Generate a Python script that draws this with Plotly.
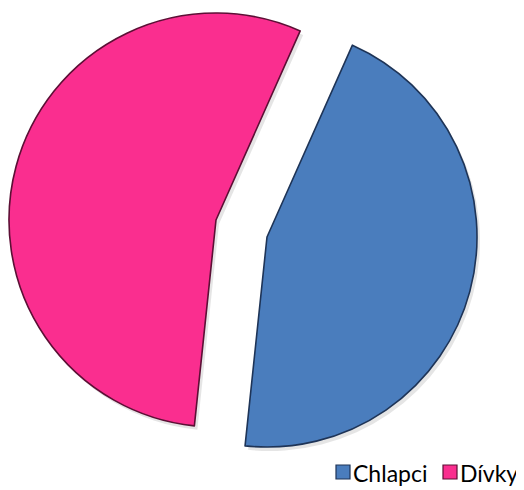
import plotly.graph_objects as go

# Data
categories = ["Chlapci", "Dívky"]
values = [45, 55]
fill_colors = ["#4A7DBD", "#FA2E8F"]
edge_colors = ["#1E3457", "#5C0F35"]

# page body has an 8px margin: figure fills the rest of the 524x490 window
OFF = 8
W, H = 524 - OFF, 490 - OFF

def fx(x):  # screen px -> paper
    return (x - OFF) / W

def fy(y):
    return 1 - (y - OFF) / H

def px_domain(cx, cy, r):
    return dict(x=[max(0, fx(cx - r)), min(1, fx(cx + r))],
                y=[max(0, fy(cy + r)), min(1, fy(cy - r))])

fig = go.Figure()

# each slice drawn as its own exploded pie (other slice transparent)
centers = [(267, 237, 210), (216, 220, 207)]
for i, (cx, cy, r) in enumerate(centers):
    sh_cols = ["rgba(0,0,0,0)"] * len(categories)
    sh_cols[i] = "rgba(0,0,0,0.10)"
    fig.add_trace(go.Pie(
        labels=categories, values=values, sort=False, direction="clockwise",
        rotation=24, domain=px_domain(cx + 3, cy + 4, r),
        marker=dict(colors=sh_cols, line=dict(width=0)),
        textinfo="none", hoverinfo="skip", showlegend=False))
for i, (cx, cy, r) in enumerate(centers):
    cols = ["rgba(0,0,0,0)"] * len(categories)
    cols[i] = fill_colors[i]
    lcols = ["rgba(0,0,0,0)"] * len(categories)
    lcols[i] = edge_colors[i]
    fig.add_trace(go.Pie(
        labels=categories, values=values, sort=False, direction="clockwise",
        rotation=24, domain=px_domain(cx, cy, r),
        marker=dict(colors=cols, line=dict(width=1.6, color=lcols)),
        textinfo="none", showlegend=False))

# manual legend (squares + text) in the bottom-right corner
legend_x = [336, 443]   # left edge of each square, screen px
sq = 14
ly = 472
shapes, annotations = [], []
for name, c, e, x0 in zip(categories, fill_colors, edge_colors, legend_x):
    shapes.append(dict(type="rect", xref="paper", yref="paper",
                       x0=fx(x0), x1=fx(x0 + sq),
                       y0=fy(ly + sq / 2), y1=fy(ly - sq / 2),
                       fillcolor=c, line=dict(color=e, width=1.2)))
    annotations.append(dict(text=name, xref="paper", yref="paper",
                            x=fx(x0 + sq + 1), y=fy(ly + 1),
                            xanchor="left", yanchor="middle", showarrow=False,
                            font=dict(family="Lato", size=23, color="#000000")))

fig.update_layout(
    width=W, height=H,
    margin=dict(l=0, r=0, t=0, b=0, autoexpand=False),
    paper_bgcolor="white", plot_bgcolor="white",
    showlegend=False,
    shapes=shapes, annotations=annotations,
)

fig.write_html("out.html")
